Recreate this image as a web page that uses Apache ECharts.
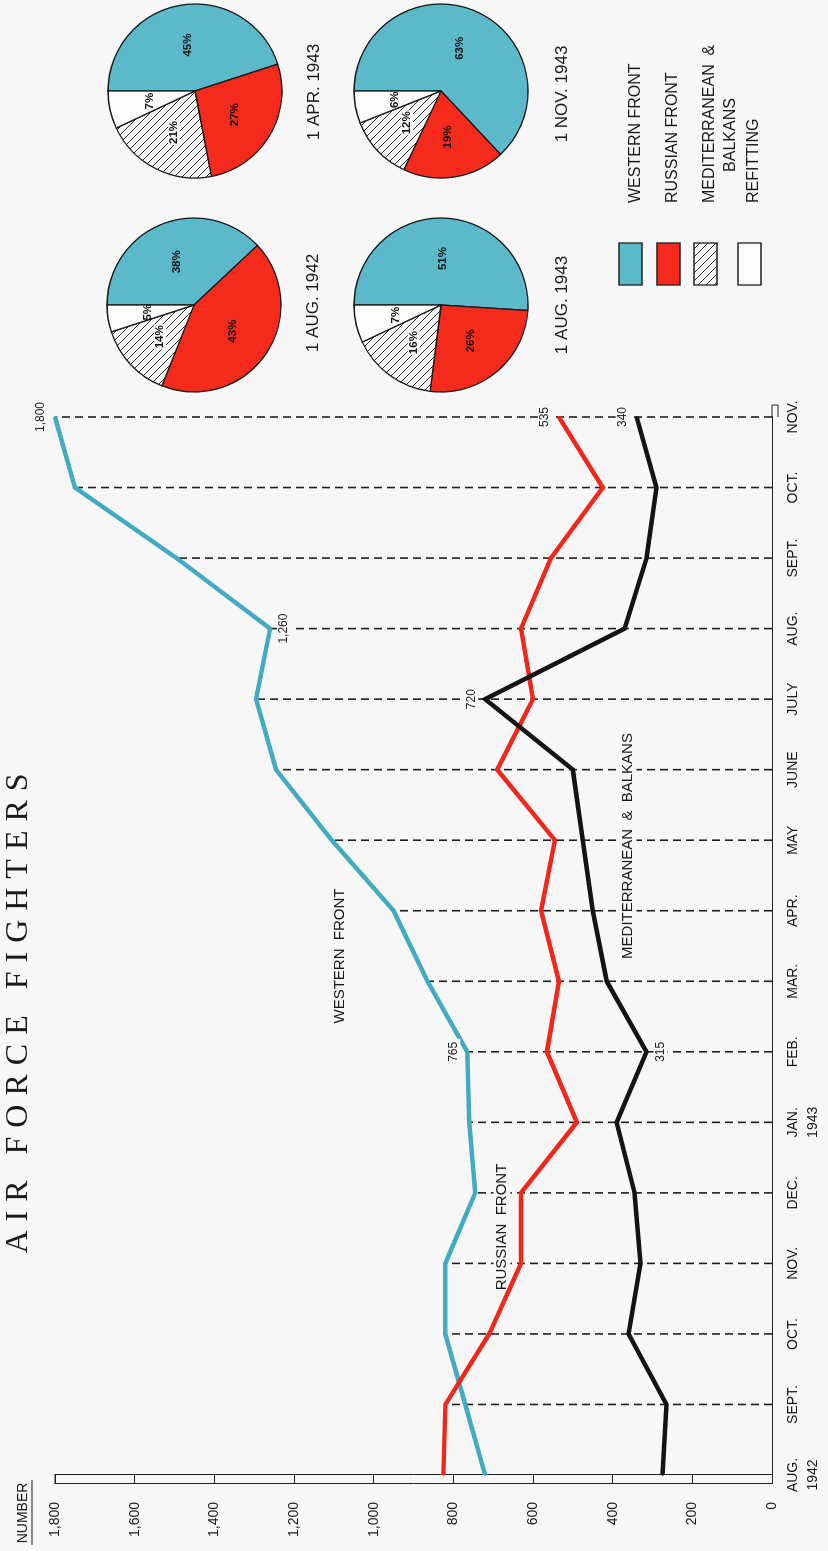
<!DOCTYPE html>
<html><head><meta charset="utf-8">
<script src="https://cdn.jsdelivr.net/npm/echarts@6/dist/echarts.min.js"></script>
<style>
html,body{margin:0;padding:0;background:#f7f7f7;overflow:hidden;width:828px;height:1551px}
#wrap{position:absolute;left:0;top:0;width:1551px;height:828px;transform-origin:0 0;transform:translate(0,1551px) rotate(-90deg);}
#chart{position:absolute;left:0;top:0;width:1551px;height:828px}
#title{position:absolute;left:242px;top:0px;width:600px;text-align:center;font-family:'Liberation Serif','Times New Roman',serif;font-size:32px;line-height:32px;letter-spacing:9px;color:#1a1a1a;white-space:nowrap}
</style></head><body>
<div id="wrap"><div id="chart"></div><div id="title">AIR FORCE FIGHTERS</div></div>
<script>
// ---- data ----
const months = ['AUG.\n1942','SEPT.','OCT.','NOV.','DEC.','JAN.\n1943','FEB.','MAR.','APR.','MAY','JUNE','JULY','AUG.','SEPT.','OCT.','NOV.'];
const western = [720, 770, 820, 820, 745, 760, 765, 865, 950, 1105, 1245, 1295, 1260, 1495, 1750, 1800];
const russian = [825, 820, 710, 630, 630, 490, 565, 535, 580, 545, 690, 600, 630, 555, 425, 535];
const mediterranean = [275, 265, 360, 330, 345, 390, 315, 415, 450, 475, 500, 720, 370, 315, 290, 340];
const valueMin = 0, valueMax = 1800, valueStep = 200;
const fronts = ['WESTERN FRONT', 'RUSSIAN FRONT', 'MEDITERRANEAN & BALKANS', 'REFITTING'];
const share_aug1942 = [38, 43, 14, 5];
const share_apr1943 = [45, 27, 21, 7];
const share_aug1943 = [51, 26, 16, 7];
const share_nov1943 = [63, 19, 12, 6];
const pieDates = ['1 AUG. 1942', '1 APR. 1943', '1 AUG. 1943', '1 NOV. 1943'];
// which points carry a value label, and on which side
const westernLabels = {6: 'top', 12: 'bottom', 15: 'top'};
const russianLabels = {15: 'top'};
const medLabels = {6: 'bottom', 11: 'top', 15: 'top'};

// ---- styling ----
const FONT = "'Liberation Sans', Arial, sans-serif";
const BG = '#f7f7f7';
const C_BLUE_LINE = '#43abc1', C_RED_LINE = '#f0281c', C_BLACK = '#141414';
const C_BLUE = '#5cb9ca', C_RED = '#f42a1c', C_WHITE = '#fbfbfb';

function hatch() {
  const c = document.createElement('canvas');
  c.width = 8; c.height = 8;
  const g = c.getContext('2d');
  g.fillStyle = BG; g.fillRect(0, 0, 8, 8);
  g.strokeStyle = '#2a2a2a'; g.lineWidth = 1;
  g.beginPath();
  for (const o of [-8, 0, 8]) { g.moveTo(o, 0); g.lineTo(o + 8, 8); }
  g.stroke();
  return c;
}
const hatchPattern = {image: hatch(), repeat: 'repeat'};
const sliceColors = [C_BLUE, C_RED, hatchPattern, C_WHITE];

const fmt = v => v.toLocaleString('en-US');
function lineData(arr, labels) {
  return arr.map((v, i) => labels[i] ? {
    value: v,
    label: {show: true, position: labels[i], distance: 6, formatter: fmt(v), fontSize: 12, color: '#222', fontFamily: FONT,
            backgroundColor: BG, padding: [1, 3]}
  } : v);
}
function lineSeries(name, arr, labels, color) {
  return {
    type: 'line', name, data: lineData(arr, labels), symbol: 'circle', symbolSize: 2, showSymbol: true, showAllSymbol: true,
    z: 5, silent: true, itemStyle: {color},
    label: {show: false},
    lineStyle: {color, width: 4.5, join: 'miter'}, xAxisIndex: 0, yAxisIndex: 0
  };
}
function pieSeries(center, shares) {
  return {
    type: 'pie', center, radius: 87, startAngle: 90, clockwise: true, silent: true,
    label: {show: true, position: 'inside', formatter: p => p.value + '%', fontSize: 11.5, fontWeight: 'bold', color: '#111', fontFamily: FONT},
    labelLine: {show: false},
    itemStyle: {borderColor: '#1a1a1a', borderWidth: 1.3},
    data: shares.map((v, i) => ({
      name: fronts[i], value: v, itemStyle: {color: sliceColors[i]},
      label: i === 2 ? {backgroundColor: BG, padding: [0, 1]} : {}
    }))
  };
}

const dashData = months.map((m, i) => [i, Math.max(western[i], russian[i], mediterranean[i])]).slice(1);

const chart = echarts.init(document.getElementById('chart'), null, {width: 1551, height: 828});

const gridL = 76, gridR = 1134, gridT = 55, gridB = 772;
const txt = (x, y, text, size, align, bg) => ({
  type: 'text', x, y, silent: true, z: bg ? 3 : 10,
  style: Object.assign({text, fontSize: size, fontFamily: FONT, fill: '#1a1a1a', align: align || 'center', verticalAlign: 'middle'},
                       bg ? {backgroundColor: BG, padding: [1, 5]} : {})
});

const legendRows = [
  {v: 619, fill: C_BLUE}, {v: 657, fill: C_RED}, {v: 694, fill: hatchPattern}, {v: 738, fill: C_WHITE}
];
const graphics = [];
legendRows.forEach(r => graphics.push({
  type: 'rect', silent: true, shape: {x: 1266, y: r.v, width: 42, height: 23},
  style: {fill: r.fill, stroke: '#222', lineWidth: 1.3}
}));
graphics.push(txt(1348, 636, fronts[0], 16, 'left'));
graphics.push(txt(1348, 673, fronts[1], 16, 'left'));
graphics.push(txt(1348, 710, 'MEDITERRANEAN  &', 16, 'left'));
graphics.push(txt(1416, 731, 'BALKANS', 16, 'center'));
graphics.push(txt(1348, 754, fronts[3], 16, 'left'));
// pie captions
graphics.push(txt(1248, 313, pieDates[0], 17));
graphics.push(txt(1459, 314, pieDates[1], 17));
graphics.push(txt(1246, 562, pieDates[2], 17));
graphics.push(txt(1457, 562, pieDates[3], 17));
// line captions (they interrupt the dashed guide lines, as in the original)
graphics.push(txt(595, 340, 'WESTERN  FRONT', 15, 'center', true));
graphics.push(txt(324, 502, 'RUSSIAN  FRONT', 15, 'center', true));
graphics.push(txt(705, 628, 'MEDITERRANEAN  &  BALKANS', 15, 'center', true));
// axis name
graphics.push(txt(38, 23, 'NUMBER', 14));
graphics.push({type: 'line', silent: true, shape: {x1: 6, y1: 32, x2: 71, y2: 32}, style: {stroke: '#1a1a1a', lineWidth: 1.2}});
// axis bar caps
graphics.push({type: 'line', silent: true, shape: {x1: 67, y1: gridT, x2: gridL, y2: gridT}, style: {stroke: '#222', lineWidth: 1}});
graphics.push({type: 'polyline', silent: true, shape: {points: [[gridR, gridB], [gridR + 12, gridB], [gridR + 12, gridB + 6], [gridR, gridB + 6]]}, style: {stroke: '#222', lineWidth: 1, fill: null}});

chart.setOption({
  animation: false,
  backgroundColor: BG,
  grid: {left: gridL, right: 1551 - gridR, top: gridT, bottom: 828 - gridB, containLabel: false, outerBoundsMode: 'none'},
  xAxis: [
    {type: 'category', data: months, boundaryGap: false, position: 'bottom',
     axisLine: {show: true, lineStyle: {color: '#222', width: 1}}, axisTick: {show: false}, axisLabel: {show: false}, splitLine: {show: false}},
    {type: 'category', data: months, boundaryGap: false, position: 'bottom', offset: 6,
     axisLine: {show: true, lineStyle: {color: '#222', width: 1}}, axisTick: {show: false},
     axisLabel: {show: true, interval: 0, margin: 5, fontSize: 14, lineHeight: 20, color: '#1a1a1a', fontFamily: FONT, verticalAlign: 'top'},
     splitLine: {show: false}}
  ],
  yAxis: [
    {type: 'value', min: valueMin, max: valueMax, interval: valueStep, position: 'left',
     axisLine: {show: true, lineStyle: {color: '#222', width: 1}}, axisTick: {show: false}, axisLabel: {show: false}, splitLine: {show: false}},
    {type: 'value', min: valueMin, max: valueMax, interval: valueStep, position: 'left', offset: 9,
     axisLine: {show: true, lineStyle: {color: '#222', width: 1}},
     axisTick: {show: true, inside: true, length: 9, lineStyle: {color: '#222', width: 1}},
     axisLabel: {show: true, margin: 18, fontSize: 14, color: '#1a1a1a', fontFamily: FONT, formatter: v => fmt(v)},
     splitLine: {show: false}}
  ],
  series: [
    {type: 'custom', silent: true, z: 2, xAxisIndex: 0, yAxisIndex: 0, encode: {x: 0, y: 1}, data: dashData,
     renderItem: (params, api) => {
       const top = api.coord([api.value(0), api.value(1)]);
       const bot = api.coord([api.value(0), 0]);
       return {type: 'line', shape: {x1: bot[0], y1: bot[1], x2: top[0], y2: top[1]},
               style: {stroke: '#1e1e1e', lineWidth: 1.6, lineDash: [8, 5]}};
     }},
    lineSeries('WESTERN FRONT', western, westernLabels, C_BLUE_LINE),
    lineSeries('RUSSIAN FRONT', russian, russianLabels, C_RED_LINE),
    lineSeries('MEDITERRANEAN & BALKANS', mediterranean, medLabels, C_BLACK),
    pieSeries([1246, 194], share_aug1942),
    pieSeries([1460, 195], share_apr1943),
    pieSeries([1246, 441], share_aug1943),
    pieSeries([1460, 441], share_nov1943)
  ],
  graphic: graphics
});
</script></body></html>
